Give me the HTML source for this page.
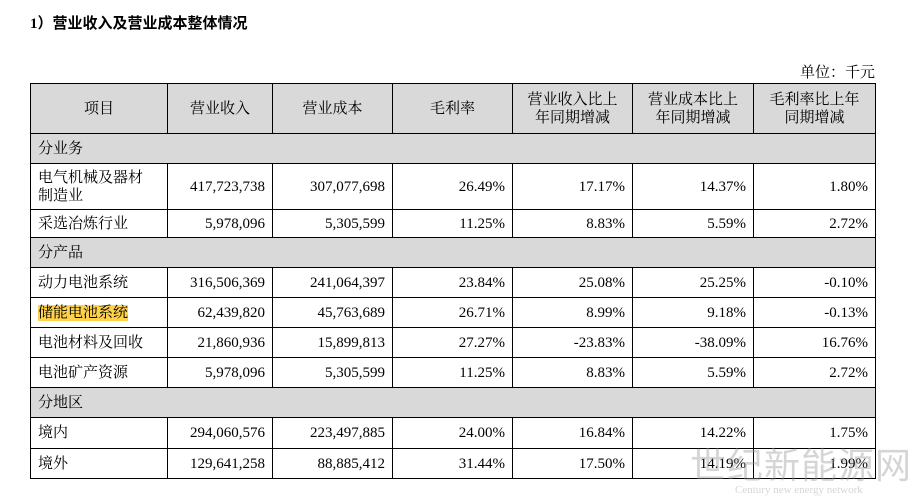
<!DOCTYPE html>
<html><head><meta charset="utf-8"><style>
body{margin:0;width:918px;height:499px;background:#fff;position:relative;overflow:hidden;font-family:"Liberation Serif","Noto Serif CJK SC",serif;color:#000}
.t{position:absolute;left:30px;top:12px;font-size:15px;font-weight:bold;font-family:"Liberation Serif","Noto Sans CJK SC",sans-serif}
.u{position:absolute;right:43px;top:61px;font-size:15px}
table{position:absolute;left:30px;top:83px;border-collapse:collapse;font-size:15px;table-layout:fixed}
td{border:1.5px solid #000;padding:0 7px;line-height:18px}
.h td{background:#d9d9d9;text-align:center;height:49px}
.s td{background:#d9d9d9;height:29px}
td.n{text-align:right}
.hl{background:#ffd24a}
.wm{position:absolute;color:rgba(150,150,150,.4);white-space:nowrap}
</style></head><body>
<div class="t">1）营业收入及营业成本整体情况</div>
<div class="u">单位：千元</div>
<table>
<colgroup><col style="width:137px"><col style="width:105px"><col style="width:120px"><col style="width:120px"><col style="width:120px"><col style="width:121px"><col style="width:122px"></colgroup>
<tr class="h"><td>项目</td><td>营业收入</td><td>营业成本</td><td>毛利率</td><td>营业收入比上<br>年同期增减</td><td>营业成本比上<br>年同期增减</td><td>毛利率比上年<br>同期增减</td></tr>
<tr class="s"><td colspan="7">分业务</td></tr>
<tr style="height:46px"><td>电气机械及器材<br>制造业</td><td class="n">417,723,738</td><td class="n">307,077,698</td><td class="n">26.49%</td><td class="n">17.17%</td><td class="n">14.37%</td><td class="n">1.80%</td></tr>
<tr style="height:28px"><td>采选冶炼行业</td><td class="n">5,978,096</td><td class="n">5,305,599</td><td class="n">11.25%</td><td class="n">8.83%</td><td class="n">5.59%</td><td class="n">2.72%</td></tr>
<tr class="s"><td colspan="7">分产品</td></tr>
<tr style="height:30px"><td>动力电池系统</td><td class="n">316,506,369</td><td class="n">241,064,397</td><td class="n">23.84%</td><td class="n">25.08%</td><td class="n">25.25%</td><td class="n">-0.10%</td></tr>
<tr style="height:30px"><td><span class="hl">储能电池系统</span></td><td class="n">62,439,820</td><td class="n">45,763,689</td><td class="n">26.71%</td><td class="n">8.99%</td><td class="n">9.18%</td><td class="n">-0.13%</td></tr>
<tr style="height:30px"><td>电池材料及回收</td><td class="n">21,860,936</td><td class="n">15,899,813</td><td class="n">27.27%</td><td class="n">-23.83%</td><td class="n">-38.09%</td><td class="n">16.76%</td></tr>
<tr style="height:30px"><td>电池矿产资源</td><td class="n">5,978,096</td><td class="n">5,305,599</td><td class="n">11.25%</td><td class="n">8.83%</td><td class="n">5.59%</td><td class="n">2.72%</td></tr>
<tr class="s"><td colspan="7">分地区</td></tr>
<tr style="height:31px"><td>境内</td><td class="n">294,060,576</td><td class="n">223,497,885</td><td class="n">24.00%</td><td class="n">16.84%</td><td class="n">14.22%</td><td class="n">1.75%</td></tr>
<tr style="height:30px"><td>境外</td><td class="n">129,641,258</td><td class="n">88,885,412</td><td class="n">31.44%</td><td class="n">17.50%</td><td class="n">14.19%</td><td class="n">1.99%</td></tr>
</table>
<div class="wm" style="left:690px;top:443px;font-size:36px;letter-spacing:1px;font-family:'Noto Sans CJK SC',sans-serif;line-height:40px">世纪新能源网</div>
<div class="wm" style="left:735px;top:484px;font-size:11px">Century new energy network</div>
</body></html>
